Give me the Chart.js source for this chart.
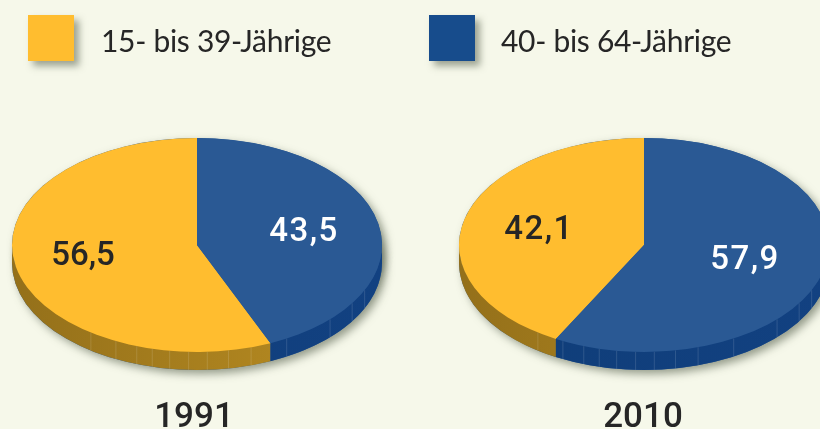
<!DOCTYPE html>
<html lang="de">
<head>
<meta charset="utf-8">
<title>Altersgruppen 1991 und 2010</title>
<script src="https://cdn.jsdelivr.net/npm/chart.js@4"></script>
<style>
    html, body { margin: 0; padding: 0; }
    body { width: 820px; height: 429px; background: #f6f8ea; position: relative; overflow: hidden; }
    canvas { position: absolute; top: 45px; }
    #chart1991 { left: -3px; }
    #chart2010 { left: 444px; }
    .key { position: absolute; top: 15px; width: 46px; height: 46px; box-shadow: 5px 5px 7px rgba(70, 80, 60, .5); }
    .keytext { position: absolute; top: 18px; font: 30px/44px Lato, sans-serif; color: #262626; letter-spacing: -.3px; white-space: nowrap; }
</style>
</head>
<body>
<canvas id="chart1991" width="400" height="400"></canvas>
<canvas id="chart2010" width="400" height="400"></canvas>
<script>
const categories = ['15- bis 39-Jährige', '40- bis 64-Jährige'];
const years = ['1991', '2010'];
const values1991 = [56.5, 43.5];
const values2010 = [42.1, 57.9];

const topColors = ['#ffbd2f', '#2a5994'];
const legendColors = ['#ffbd2f', '#174c8c'];
const labelColors = ['#262626', '#ffffff'];
// side of the disc, left -> right
const sideColors = [['#94701a', '#bb8e22'], ['#0f3d78', '#124181']];

// thin lines on the side of the disc, degrees from the bottom
const facetAngles = [-35, -26, -19, -14, -8.5, -2.6, 3.2, 9.8, 17, 29, 46, 57, 65];

const squash = 0.578;
const depth = 18;

// Legend
[[28, 101], [429, 501]].forEach(([boxX, textX], i) => {
    const box = document.createElement('div');
    box.className = 'key';
    box.style.left = boxX + 'px';
    box.style.background = legendColors[i];
    document.body.appendChild(box);

    const text = document.createElement('div');
    text.className = 'keytext';
    text.style.left = textX + 'px';
    text.textContent = categories[i];
    document.body.appendChild(text);
});

// Flattens the pie and adds the side of the disc
const discPlugin = {
    id: 'disc',
    beforeDatasetsDraw(chart) {
        const ctx = chart.ctx;
        const arcs = chart.getDatasetMeta(0).data;
        const { x, y, outerRadius } = arcs[0].getProps(['x', 'y', 'outerRadius'], true);
        const ry = outerRadius * squash;

        const ellipse = (offset) => {
            ctx.beginPath();
            ctx.ellipse(x, y + offset, outerRadius, ry, 0, 0, Math.PI * 2);
        };

        // Drop shadow
        ctx.save();
        ctx.shadowColor = 'rgba(70, 80, 60, .55)';
        ctx.shadowBlur = 9;
        ctx.shadowOffsetX = 4;
        ctx.shadowOffsetY = 4;
        ctx.fillStyle = '#2a5994';
        ellipse(0);
        ctx.fill();
        ellipse(depth);
        ctx.fill();
        ctx.restore();

        // Side: only the strip under the front rim of each slice
        arcs.forEach((arc, i) => {
            let { startAngle, endAngle } = arc.getProps(['startAngle', 'endAngle'], true);
            if (startAngle < -Math.PI / 2 - 0.001) {
                startAngle += Math.PI * 2;
                endAngle += Math.PI * 2;
            }
            const from = Math.max(startAngle, 0);
            const to = Math.min(endAngle, Math.PI);
            const gradient = ctx.createLinearGradient(x - outerRadius, 0, x + outerRadius, 0);
            gradient.addColorStop(0, sideColors[i][0]);
            gradient.addColorStop(1, sideColors[i][1]);
            ctx.fillStyle = gradient;
            ctx.beginPath();
            ctx.ellipse(x, y - 1, outerRadius, ry, 0, from, to);
            ctx.ellipse(x, y + depth, outerRadius, ry, 0, to, from, true);
            ctx.closePath();
            ctx.fill();
        });

        // Facets
        ctx.save();
        ctx.strokeStyle = 'rgba(255, 255, 255, .13)';
        ctx.lineWidth = 1;
        facetAngles.forEach(angle => {
            const rad = angle * Math.PI / 180;
            const fx = x + outerRadius * Math.sin(rad);
            const fy = y + ry * Math.cos(rad);
            ctx.beginPath();
            ctx.moveTo(fx, fy);
            ctx.lineTo(fx, fy + depth);
            ctx.stroke();
        });
        ctx.restore();

        // Top face is drawn by the library, squashed
        ctx.save();
        ctx.translate(x, y);
        ctx.scale(1, squash);
        ctx.translate(-x, -y);
    },
    afterDatasetsDraw(chart, args, opts) {
        const ctx = chart.ctx;
        ctx.restore();

        const arcs = chart.getDatasetMeta(0).data;
        const { x, y } = arcs[0].getProps(['x', 'y'], true);
        const values = chart.data.datasets[0].data;

        ctx.save();
        ctx.textAlign = 'center';
        ctx.textBaseline = 'alphabetic';
        ctx.font = '500 33px Roboto, sans-serif';
        values.forEach((value, i) => {
            const [dx, dy, spacing] = opts.labelOffsets[i];
            ctx.letterSpacing = spacing + 'px';
            ctx.fillStyle = labelColors[i];
            ctx.fillText(String(value).replace('.', ','), x + dx, y + dy);
        });
        ctx.letterSpacing = '0px';
        ctx.fillStyle = '#262626';
        ctx.font = '500 35px Roboto, sans-serif';
        ctx.fillText(opts.year, x + opts.yearOffset, 382);
        ctx.restore();
    }
};

function createPie(id, values, year, labelOffsets, yearOffset) {
    const total = values.reduce((a, b) => a + b, 0);
    return new Chart(document.getElementById(id), {
        type: 'pie',
        data: {
            labels: categories,
            datasets: [{
                data: values,
                backgroundColor: topColors,
                borderWidth: 0
            }]
        },
        options: {
            responsive: false,
            animation: false,
            // yellow slice ends at twelve o'clock
            rotation: -values[0] / total * 360,
            layout: { padding: 15 },
            plugins: {
                legend: { display: false },
                tooltip: { enabled: false },
                disc: { year, labelOffsets, yearOffset }
            }
        },
        plugins: [discPlugin]
    });
}

createPie('chart1991', values1991, years[0], [[-114, 20, 0], [107, -4, 1.5]], -3);
createPie('chart2010', values2010, years[1], [[-105, -6, 1.5], [101, 24, 1.5]], -1);
</script>
</body>
</html>
